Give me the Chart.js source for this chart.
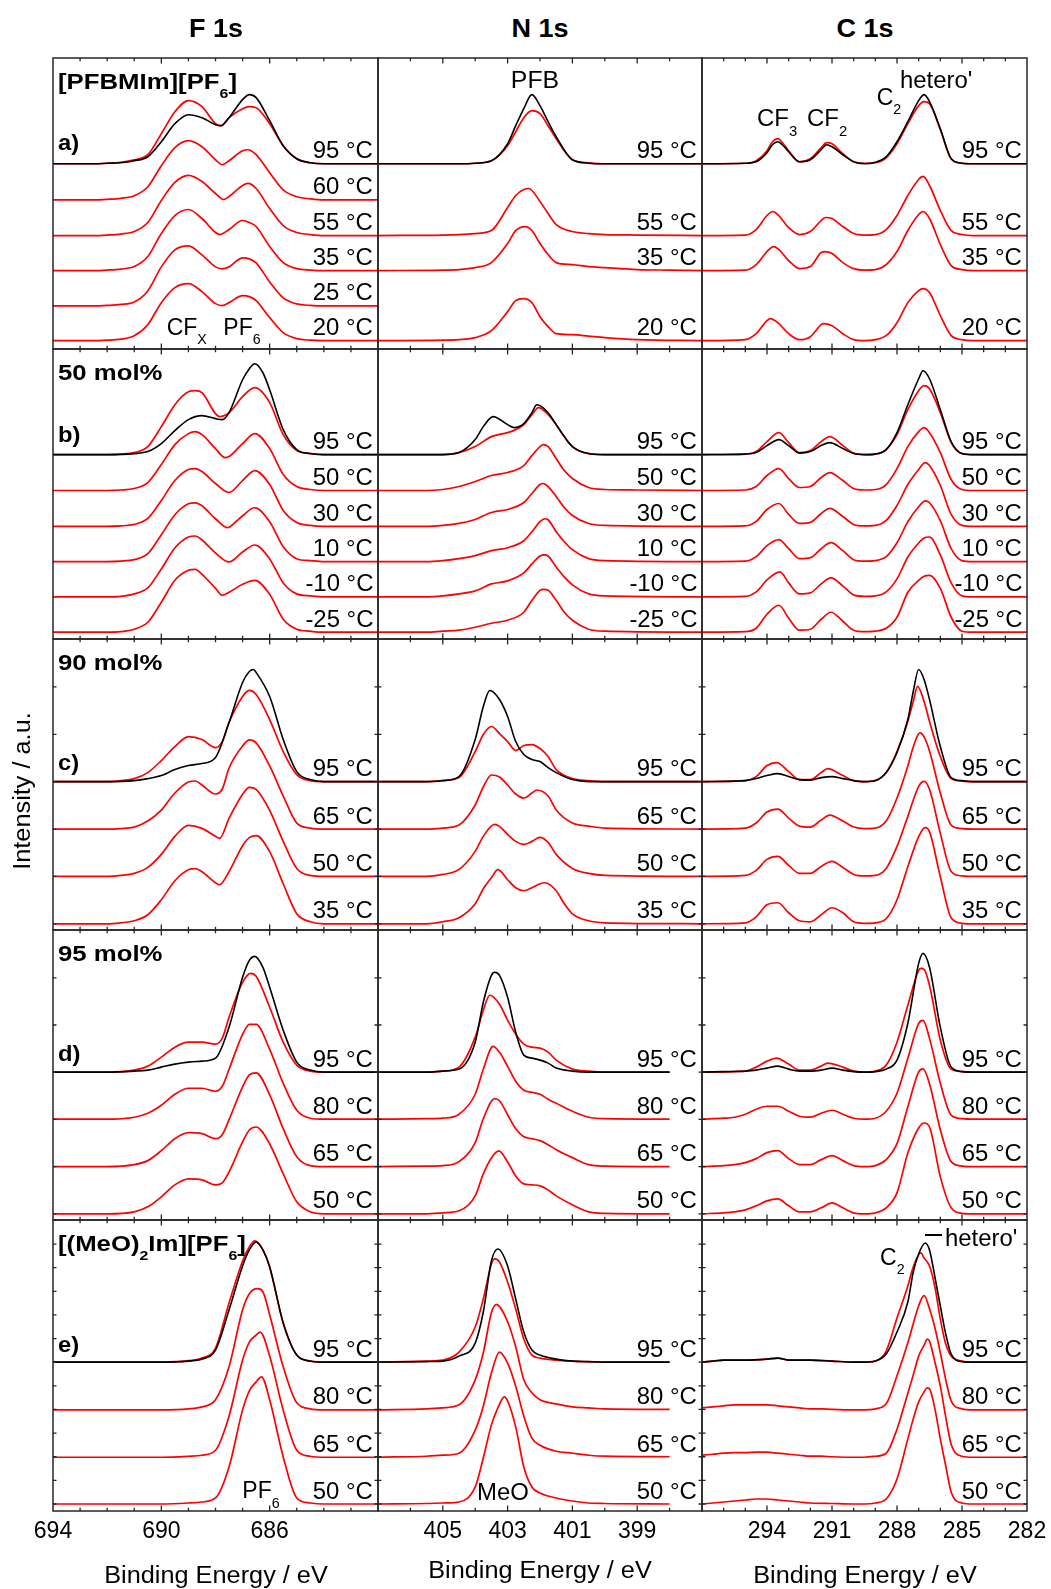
<!DOCTYPE html>
<html lang="en">
<head>
<meta charset="utf-8">
<title>F 1s, N 1s and C 1s XP spectra vs. temperature</title>
<script src="https://cdn.jsdelivr.net/npm/chart.js@4.4.1/dist/chart.umd.min.js"></script>
<style>
  html, body { margin: 0; padding: 0; background: #fff; }
  #fig { position: relative; width: 1051px; height: 1589px; overflow: hidden;
         font-family: "Liberation Sans", Arial, Helvetica, sans-serif; color: #000; }
  #fig canvas { position: absolute; }
  .txt { position: absolute; white-space: nowrap; line-height: 1; }
  .sub { font-size: 0.62em; position: relative; top: 0.7em; }
</style>
</head>
<body>
<div id="fig"></div>
<script>
// ---------------- tick labels (binding energy / eV) ----------------
const F1s_ticks = [694, 690, 686];
const N1s_ticks = [405, 403, 401, 399];
const C1s_ticks = [294, 291, 288, 285, 282];

// ---------------- sample rows ----------------
const rowNames = ['[PFBMIm][PF<span class="sub">6</span>]', '50 mol%', '90 mol%', '95 mol%',
                  '[(MeO)<span class="sub">2</span>Im][PF<span class="sub">6</span>]'];
const rowTags = ['a)', 'b)', 'c)', 'd)', 'e)'];

// temperatures (°C) of the stacked traces, top to bottom, and their vertical offsets (a.u.)
const temps_a = [95, 60, 55, 35, 25, 20];
const offsets_a = [176.7, 140.7, 105, 70, 34.7, 0];
const temps_b = [95, 50, 30, 10, -10, -25];
const offsets_b = [178, 142, 106, 70.7, 35.4, 0];
const temps_c = [95, 65, 50, 35];
const offsets_c = [142, 94.6, 47.3, 0];
const temps_d = [95, 80, 65, 50];
const offsets_d = [142, 94.8, 47.3, 0];
const temps_e = [95, 80, 65, 50];
const offsets_e = [141.7, 94, 46.7, 0];

// ---------------- spectra: [binding energy / eV, intensity above baseline / a.u.] ----------------
// *_ref : black 95 °C trace; the other arrays follow the temperature lists (null = not measured)

// a) [PFBMIm][PF6]
const F1s_a_ref = [[694,0],[692.5,0],[692,0.5],[691.5,1],[691,3],[690.5,7],[690,22],[689.5,40],[689,49],[688.5,46],[688,39],[687.8,38],[687.5,46],[687,64],[686.75,69],[686.5,66],[686,43],[685.5,18],[685,5],[684.5,1],[684,0],[682,0]];
const F1s_a = [
  [[694,0],[692.5,0],[692,0.5],[691.5,1.5],[691,4],[690.5,9],[690,30],[689.5,52],[689,63],[688.5,57],[688,40],[687.8,38],[687.5,46],[687,55],[686.75,57],[686.5,56],[686,40],[685.5,18],[685,5],[684.5,1],[684,0],[682,0]],
  [[694,0],[692.5,0],[692,0.5],[691.5,1.5],[691,4],[690.5,13],[690,34],[689.5,52],[689,59],[688.5,53],[688,40],[687.75,35],[687.5,39],[687,49],[686.8,50],[686.5,45],[686,27],[685.5,10],[685,3],[684.5,1],[684,0],[682,0]],
  [[694,0],[692.5,0],[692,0.5],[691.5,1.5],[691,4],[690.5,13],[690,35],[689.5,53],[689,60],[688.5,54],[688,42],[687.7,36],[687.5,39],[687,50],[686.8,52],[686.5,47],[686,27],[685.5,10],[685,3],[684.5,1],[684,0],[682,0]],
  [[694,0],[692.5,0],[692,0.5],[691.5,1.5],[691,4],[690.5,14],[690,37],[689.5,55],[689,61],[688.5,52],[688,38],[687.85,36],[687.5,41],[687,50],[686.75,48],[686.5,44],[686,24],[685.5,8],[685,2],[684.5,0.5],[684,0],[682,0]],
  [[694,0],[692.5,0],[692,0.5],[691.5,1.5],[691,4],[690.5,15],[690,39],[689.5,56],[689,60],[688.5,51],[688,39],[687.75,37],[687.5,39],[687,48],[686.75,47],[686.5,43],[686,24],[685.5,8],[685,2],[684.5,0.5],[684,0],[682,0]],
  [[694,0],[692.5,0],[692,0.5],[691.5,1.5],[691,5],[690.5,16],[690,38],[689.5,53],[689,57],[688.5,49],[688,37],[687.75,35],[687.5,38],[687,45],[686.75,44],[686.5,40],[686,23],[685.5,8],[685,2],[684.5,0.5],[684,0],[682,0]]
];
const N1s_a_ref = [[407,0],[404.5,0],[404,0.5],[403.5,3],[403,20],[402.75,38],[402.5,55],[402.25,69],[402,58],[401.75,42],[401.5,27],[401,4],[400.5,0.5],[400,0],[397,0]];
const N1s_a = [
  [[407,0],[404.5,0],[404,0.5],[403.5,3],[403,18],[402.75,32],[402.5,46],[402.25,53],[402,50],[401.75,38],[401.5,25],[401,4],[400.5,1],[400,0],[397,0]],
  null,
  [[407,0],[405,0.5],[404.5,1],[404,2],[403.5,5],[403,28],[402.75,40],[402.5,46],[402.35,47],[402,34],[401.75,22],[401.5,11],[401,4],[400.5,2],[400,1],[399,0.5],[397,0]],
  [[407,0],[405,0.5],[404.5,1],[404,3],[403.5,8],[403,27],[402.75,40],[402.45,44],[402.25,40],[402,27],[401.75,16],[401.5,8],[401,6],[400.5,4],[400,3],[399.5,2],[399,1],[398,0.5],[397,0]],
  null,
  [[407,0],[405,0.5],[404.5,1],[404,3],[403.5,10],[403,29],[402.75,40],[402.5,42],[402.25,38],[402,24],[401.75,14],[401.5,7],[401,6],[400.5,4.5],[400,3],[399,1],[397,0]]
];
const C1s_a_ref = [[297,0],[295,0.5],[294.5,2],[294,11],[293.75,19],[293.5,22],[293.25,18],[293,12],[292.5,2],[292,4],[291.5,14],[291.25,19],[291,17],[290.5,9],[290,2],[289.5,0],[289,1.5],[288.5,7],[288,22],[287.5,42],[287,63],[286.75,69],[286.5,62],[286,35],[285.5,5],[285,0.5],[284.5,0],[282,0]];
const C1s_a = [
  [[297,0],[295,0.5],[294.5,3],[294,13],[293.75,22],[293.5,25],[293.25,20],[293,13],[292.5,2],[292,5],[291.5,16],[291.25,21],[291,20],[290.5,10],[290,2],[289.5,0.5],[289,1],[288.5,6],[288,20],[287.5,40],[287,58],[286.75,62],[286.5,60],[286,34],[285.5,5],[285,0.5],[284.5,0],[282,0]],
  null,
  [[297,0],[295,0.5],[294.5,6],[294,20],[293.75,24],[293.5,21],[293,8],[292.5,1],[292,4],[291.5,15],[291.3,18],[291,17],[290.5,9],[290,2],[289.5,0.5],[289,1],[288.5,6],[288,20],[287.5,40],[287,56],[286.8,59],[286.5,50],[286,25],[285.5,5],[285,1],[284.5,0],[282,0]],
  [[297,0],[295,0.5],[294.5,6],[294,19],[293.7,24],[293.5,22],[293,10],[292.5,2],[292,4],[291.5,18],[291.3,19],[291,17],[290.5,8],[290,2],[289.5,0.5],[289,1],[288.5,6],[288,19],[287.5,40],[287,56],[286.8,59],[286.5,52],[286,26],[285.5,5],[285,1],[284.5,0],[282,0]],
  null,
  [[297,0],[295,1],[294.5,7],[294,20],[293.85,22],[293.5,18],[293,7],[292.5,1],[292,4],[291.5,16],[291.4,17],[291,15],[290.5,7],[290,1],[289.5,0],[289,1],[288.5,5],[288,18],[287.5,38],[287,50],[286.8,52],[286.5,48],[286,25],[285.5,5],[285,1],[284.5,0],[282,0]]
];

// b) 50 mol%
const F1s_b_ref = [[694,0],[692,0],[691,1],[690.5,3],[690,11],[689.5,24],[689,35],[688.5,39],[688,36],[687.75,35],[687.5,42],[687,75],[686.75,86],[686.55,91],[686.25,82],[686,65],[685.5,25],[685,5],[684.5,1],[684,0],[682,0]];
const F1s_b = [
  [[694,0],[692,0],[691.5,0.5],[691,2],[690.5,8],[690,28],[689.5,50],[689,63],[688.75,64],[688.5,62],[688,41],[687.85,38],[687.5,42],[687,58],[686.55,67],[686,52],[685.5,20],[685,4],[684.5,1],[684,0],[682,0]],
  [[694,0],[692,0],[691.5,0.5],[691,2],[690.5,8],[690,26],[689.5,46],[689,57],[688.75,59],[688.5,56],[688,42],[687.65,33],[687.5,34],[687,47],[686.55,57],[686,42],[685.5,16],[685,4],[684.5,1],[684,0],[682,0]],
  [[694,0],[692,0],[691.5,0.5],[691,2],[690.5,8],[690,26],[689.5,46],[689,57],[688.75,58],[688.5,55],[688,43],[687.5,34],[687,46],[686.55,56],[686,42],[685.5,16],[685,4],[684.5,1],[684,0],[682,0]],
  [[694,0],[692,0],[691.5,0.5],[691,2],[690.5,8],[690,27],[689.5,47],[689,58],[688.75,59],[688.5,56],[688,43],[687.55,34],[687.25,40],[687,46],[686.55,54],[686,40],[685.5,15],[685,3],[684.5,1],[684,0],[682,0]],
  [[694,0],[692,0],[691.5,0.5],[691,3],[690.5,9],[690,28],[689.5,49],[689,60],[688.75,61],[688.5,57],[688,44],[687.5,35],[687,45],[686.55,52],[686,38],[685.5,14],[685,3],[684.5,1],[684,0],[682,0]],
  [[694,0],[692,0],[691.5,0.5],[691,3],[690.5,10],[690,30],[689.5,52],[689,62],[688.75,63],[688.5,58],[688,44],[687.75,37],[687.5,40],[687,48],[686.55,52],[686,38],[685.5,13],[685,3],[684.5,1],[684,0],[682,0]]
];
const N1s_b_ref = [[407,0],[405,0],[404.5,2],[404.25,7],[404,15],[403.75,28],[403.45,38],[403,30],[402.8,27],[402.5,31],[402.25,42],[402.1,50],[402,49],[401.75,42],[401.5,30],[401.25,18],[401,8],[400.5,1],[400,0],[397,0]];
const N1s_b = [
  [[407,0],[405,0],[404.5,2],[404,8],[403.5,18],[403,22],[402.75,25],[402.5,30],[402.25,40],[402.05,47],[401.75,40],[401.5,30],[401.25,18],[401,8],[400.5,1],[400,0],[397,0]],
  [[407,0],[405.5,0],[405,1],[404.5,4],[404,9],[403.5,15],[403,18],[402.5,25],[402.25,35],[402,44],[401.9,46],[401.75,44],[401.5,32],[401.25,20],[401,12],[400.5,3],[400,1],[399,0.5],[397,0]],
  [[407,0],[405.5,0],[405,1],[404.5,3],[404,7],[403.5,14],[403,17],[402.5,24],[402.25,33],[402,42],[401.9,43],[401.75,40],[401.5,30],[401.25,19],[401,11],[400.5,3],[400,1],[397,0]],
  [[407,0],[405.5,0],[405,1],[404.5,3],[404,6],[403.5,11],[403,14],[402.5,21],[402.25,30],[402,40],[401.85,43],[401.75,42],[401.5,30],[401.25,20],[401,12],[400.5,3],[400,1],[397,0]],
  [[407,0],[405.5,0],[405,1],[404.5,3],[404,6],[403.5,13],[403,16],[402.5,24],[402.25,33],[402,41],[401.85,42],[401.75,41],[401.5,30],[401.25,20],[401,12],[400.5,3],[400,1],[397,0]],
  [[407,0],[405.5,0],[405,1],[404.5,2],[404,5],[403.5,9],[403,12],[402.5,20],[402.25,32],[402,42],[401.9,43],[401.75,42],[401.5,32],[401.25,20],[401,12],[400.5,3],[400,1],[397,0]]
];
const C1s_b_ref = [[297,0],[295,0.5],[294.5,2],[294,9],[293.45,15],[293,9],[292.5,1.5],[292,3],[291.5,9],[291.1,12],[290.5,6],[290,1],[289.5,0],[289,0.5],[288.5,5],[288,22],[287.5,50],[287,76],[286.8,84],[286.5,76],[286,45],[285.5,13],[285,1],[284.5,0],[282,0]];
const C1s_b = [
  [[297,0],[295,0.5],[294.5,3],[294,13],[293.45,22],[293,12],[292.5,2],[292,4],[291.5,13],[291.1,18],[290.5,9],[290,1.5],[289.5,0],[289,0.5],[288.5,5],[288,20],[287.5,45],[287,64],[286.75,69],[286.5,66],[286,42],[285.5,12],[285,1],[284.5,0],[282,0]],
  [[297,0],[295,0.5],[294.5,4],[294,15],[293.45,22],[293,12],[292.5,3],[292,4],[291.5,13],[291.1,18],[290.5,10],[290,2],[289.5,0.5],[289,1],[288.5,6],[288,22],[287.5,44],[287,59],[286.75,63],[286.5,58],[286,38],[285.5,11],[285,1],[284.5,0],[282,0]],
  [[297,0],[295,0.5],[294.5,5],[294,17],[293.45,23],[293,12],[292.5,3],[292,4],[291.5,13],[291.1,18],[290.5,10],[290,2],[289.5,0.5],[289,1],[288.5,6],[288,21],[287.5,42],[287,57],[286.7,64],[286.5,61],[286,41],[285.5,12],[285,1],[284.5,0],[282,0]],
  [[297,0],[295,0.5],[294.5,5],[294,16],[293.45,22],[293,13],[292.5,3],[292,4],[291.5,13],[291.05,19],[290.5,11],[290,2],[289.5,0.5],[289,1],[288.5,5],[288,19],[287.5,40],[287,55],[286.7,61],[286.5,59],[286,41],[285.5,13],[285,1],[284.5,0],[282,0]],
  [[297,0],[295,0.5],[294.5,5],[294,17],[293.4,25],[293,14],[292.5,3],[292,4],[291.5,13],[291.05,19],[290.5,11],[290,2],[289.5,0.5],[289,1],[288.5,5],[288,18],[287.5,40],[287,54],[286.75,59],[286.5,60],[286,42],[285.5,14],[285,1],[284.5,0],[282,0]],
  [[297,0],[295,0.5],[294.5,4],[294,18],[293.45,27],[293,14],[292.5,2],[292,3],[291.5,13],[291.05,20],[290.5,11],[290,2],[289.5,0.5],[289,1],[288.5,4],[288,15],[287.5,40],[287,52],[286.75,56],[286.5,57],[286,44],[285.5,15],[285,1],[284.5,0],[282,0]]
];

// c) 90 mol%
const F1s_c_ref = [[694,0],[692,0],[691,1],[690.5,3],[690,6],[689.5,12],[689,16],[688.5,18],[688,24],[687.5,59],[687,99],[686.75,110],[686.6,112],[686.5,109],[686,85],[685.5,42],[685,10],[684.5,2],[684,0],[682,0]];
const F1s_c = [
  [[694,0],[692,0],[691.5,1],[691,3],[690.5,9],[690,21],[689.5,35],[689,45],[688.5,42],[688,34],[687.75,40],[687.5,59],[687,85],[686.75,91],[686.5,87],[686,62],[685.5,30],[685,7],[684.5,1],[684,0],[682,0]],
  [[694,0],[692,0],[691.5,0.5],[691,2],[690.5,8],[690,19],[689.5,36],[689,47],[688.75,48],[688.5,44],[688,35],[687.75,40],[687.5,61],[687,83],[686.75,89],[686.5,86],[686,63],[685.5,33],[685,6],[684.5,1],[684,0],[682,0]],
  [[694,0],[692,0],[691.5,1],[691,3],[690.5,9],[690,22],[689.5,40],[689,51],[688.5,48],[688,40],[687.85,38],[687.5,58],[687,82],[686.75,89],[686.5,87],[686,66],[685.5,35],[685,8],[684.5,1],[684,0],[682,0]],
  [[694,0],[692,0],[691.5,1],[691,3],[690.5,9],[690,24],[689.5,43],[689,54],[688.75,55],[688.5,52],[688,41],[687.85,39],[687.5,52],[687,78],[686.75,86],[686.5,88],[686,72],[685.5,40],[685,10],[684.5,2],[684,0],[682,0]]
];
const N1s_c_ref = [[407,0],[405.5,0],[405,1],[404.5,5],[404,42],[403.75,75],[403.55,91],[403.25,82],[403,65],[402.75,40],[402.5,27],[402.25,22],[402,20],[401.75,14],[401.5,9],[401,2],[400.5,0],[397,0]];
const N1s_c = [
  [[407,0],[405.5,0],[405,1],[404.5,4],[404,30],[403.75,47],[403.5,55],[403.25,48],[403,40],[402.75,31],[402.5,36],[402.25,37],[402,33],[401.75,25],[401.5,12],[401,3],[400.5,1],[400,0],[397,0]],
  [[407,0],[405.5,0],[405,1],[404.5,4],[404,24],[403.75,42],[403.5,54],[403.25,52],[403,44],[402.75,35],[402.5,31],[402.25,36],[402.1,39],[401.75,33],[401.5,19],[401,6],[400.5,3],[400,1],[397,0]],
  [[407,0],[405.5,0],[405,2],[404.5,7],[404,25],[403.75,40],[403.4,52],[403.25,50],[403,42],[402.75,35],[402.5,32],[402.25,35],[402,39],[401.75,34],[401.5,22],[401,8],[400.5,3],[400,1],[397,0]],
  [[407,0],[405.5,0],[405,2],[404.5,6],[404,20],[403.75,35],[403.5,46],[403.3,54],[403,44],[402.75,36],[402.5,33],[402.25,36],[402,40],[401.85,41],[401.5,33],[401.25,20],[401,10],[400.5,3],[400,1],[397,0]]
];
const C1s_c_ref = [[297,0],[295.5,0.5],[295,1],[294.5,3],[294,6],[293.5,8],[293,5],[292.5,2],[292,1.5],[291.5,4],[291,5],[290.5,3],[290,1],[289.5,0],[289,1],[288.5,9],[288,29],[287.5,62],[287.25,90],[287,112],[286.75,102],[286.5,82],[286,35],[285.5,4],[285,1],[284.5,0],[282,0]];
const C1s_c = [
  [[297,0],[295,1],[294.5,5],[294,16],[293.55,19],[293,10],[292.5,2],[292,2],[291.5,9],[291.2,13],[290.5,6],[290,1],[289.5,0],[289,1],[288.5,9],[288,30],[287.5,60],[287.25,80],[287.05,95],[286.75,80],[286.5,60],[286,25],[285.5,3],[285,0.5],[284.5,0],[282,0]],
  [[297,0],[295,1],[294.5,6],[294,17],[293.5,20],[293,11],[292.5,3],[292,2],[291.5,9],[291.1,14],[290.5,8],[290,2],[289.5,0.5],[289,1],[288.5,8],[288,31],[287.5,63],[287.25,82],[286.95,96],[286.75,92],[286.5,78],[286,36],[285.5,4],[285,0.5],[284.5,0],[282,0]],
  [[297,0],[295,1],[294.5,6],[294,17],[293.5,20],[293,11],[292.5,3],[292,3],[291.5,10],[291,15],[290.5,9],[290,2],[289.5,0.5],[289,1],[288.5,8],[288,30],[287.5,60],[287,90],[286.75,95],[286.5,87],[286,43],[285.5,5],[285,0.5],[284.5,0],[282,0]],
  [[297,0],[295,1],[294.5,7],[294,19],[293.5,21],[293,11],[292.5,3],[292,2],[291.5,9],[291,16],[290.5,11],[290,2],[289.5,0.5],[289,1],[288.5,5],[288,24],[287.5,57],[287,87],[286.7,96],[286.5,92],[286,47],[285.5,6],[285,0.5],[284.5,0],[282,0]]
];

// d) 95 mol%
const F1s_d_ref = [[694,0],[692,0],[691,1],[690.5,2],[690,5],[689.5,8],[689,10],[688.5,11],[688,14],[687.5,45],[687,95],[686.75,112],[686.55,116],[686.25,105],[686,85],[685.5,42],[685,10],[684.5,2],[684,0],[682,0]];
const F1s_d = [
  [[694,0],[692,0],[691,2],[690.5,6],[690,15],[689.5,25],[689,30],[688.5,30],[688,28],[687.75,34],[687.5,55],[687,90],[686.7,99],[686.5,96],[686,65],[685.5,30],[685,7],[684.5,1],[684,0],[682,0]],
  [[694,0],[692,0],[691,2],[690.5,6],[690,14],[689.5,25],[689,31],[688.5,31],[688,28],[687.75,33],[687.5,50],[687,85],[686.75,95],[686.5,95],[686,70],[685.5,36],[685,9],[684.5,1],[684,0],[682,0]],
  [[694,0],[692,0],[691,2],[690.5,6],[690,16],[689.5,28],[689,34],[688.5,33],[688,28],[687.75,32],[687.5,47],[687,80],[686.75,92],[686.5,94],[686,72],[685.5,38],[685,10],[684.5,1],[684,0],[682,0]],
  [[694,0],[692,0],[691,2],[690.5,7],[690,17],[689.5,29],[689,35],[688.5,34],[688,29],[687.75,31],[687.5,42],[687,72],[686.75,84],[686.5,87],[686,70],[685.5,40],[685,12],[684.5,2],[684,0],[682,0]]
];
const N1s_d_ref = [[407,0],[405.5,0],[405,1],[404.5,3],[404,30],[403.75,70],[403.5,97],[403.4,100],[403.25,97],[403,75],[402.75,40],[402.5,17],[402.25,14],[402,12],[401.75,9],[401.5,4],[401,1],[400.5,0],[398,0]];
const N1s_d = [
  [[407,0],[405.5,0],[405,1],[404.5,5],[404,35],[403.75,62],[403.55,77],[403.25,68],[403,52],[402.75,38],[402.5,28],[402.25,25],[402,24],[401.75,20],[401.5,12],[401,3],[400.5,1],[400,0],[398,0]],
  [[407,0],[405.5,0.5],[405,1],[404.5,5],[404,25],[403.75,50],[403.45,73],[403.25,67],[403,53],[402.75,38],[402.5,29],[402.25,27],[402,25],[401.75,20],[401.5,16],[401,8],[400.5,2],[400,0.5],[398,0]],
  [[407,0],[405.5,0.5],[405,1],[404.5,5],[404,24],[403.75,48],[403.4,68],[403.25,66],[403,52],[402.75,38],[402.5,30],[402.25,28],[402,26],[401.75,22],[401.5,17],[401,9],[400.5,2],[400,0.5],[398,0]],
  [[407,0],[405.5,0],[405,1],[404.5,3],[404,18],[403.75,40],[403.5,56],[403.27,63],[403,52],[402.75,38],[402.5,30],[402.25,29],[402,28],[401.75,24],[401.5,18],[401,9],[400.5,2],[400,0.5],[398,0]]
];
const C1s_d_ref = [[297,0],[296,0.5],[295,1],[294.5,2],[294,4],[293.5,6],[293,3],[292.5,1],[292,1],[291.5,2],[291,4],[290.5,2],[290,0.5],[289.5,0],[289,0.5],[288.5,3],[288,12],[287.5,49],[287,109],[286.8,119],[286.5,105],[286,45],[285.5,5],[285,0.5],[284.5,0],[282,0]];
const C1s_d = [
  [[297,0],[295,1],[294.5,5],[294,11],[293.55,14],[293,8],[292.5,2],[292,2],[291.5,6],[291.2,9],[290.5,5],[290,1],[289.5,0],[289,1],[288.5,7],[288,30],[287.5,67],[287,102],[286.9,104],[286.75,103],[286.5,87],[286,32],[285.5,3],[285,0.5],[284.5,0],[282,0]],
  [[297,0],[296,1],[295.5,2],[295,5],[294.5,10],[294,13],[293.5,13],[293,8],[292.5,3],[292,2],[291.5,6],[291,9],[290.5,5],[290,1],[289.5,0],[289,1],[288.5,8],[288,26],[287.5,61],[287,96],[286.8,99],[286.5,81],[286,36],[285.5,4],[285,0.5],[284.5,0],[282,0]],
  [[297,0],[296,1],[295.5,2],[295,4],[294.5,8],[294,14],[293.5,16],[293,8],[292.5,2],[292,2],[291.5,7],[291,11],[290.5,6],[290,1],[289.5,0],[289,1],[288.5,7],[288,23],[287.5,60],[287,95],[286.8,98],[286.5,83],[286,37],[285.5,5],[285,0.5],[284.5,0],[282,0]],
  [[297,0],[296,1],[295.5,2],[295,4],[294.5,8],[294,13],[293.5,15],[293,8],[292.5,2],[292,2],[291.5,6],[291,11],[290.5,6],[290,1],[289.5,0],[289,1],[288.5,6],[288,21],[287.5,61],[287,86],[286.75,91],[286.5,87],[286,37],[285.5,6],[285,0.5],[284.5,0],[282,0]]
];

// e) [(MeO)2Im][PF6]
const F1s_e_ref = [[694,0],[690,0],[689,1],[688.5,3],[688,12],[687.5,52],[687,96],[686.75,112],[686.5,120],[686.25,112],[686,95],[685.5,39],[685,7],[684.5,1],[684,0],[682,0]];
const F1s_e = [
  [[694,0],[690,0],[689.5,0.5],[689,1.5],[688.5,4],[688,14],[687.5,59],[687,101],[686.75,115],[686.55,121],[686.25,112],[686,95],[685.5,39],[685,7],[684.5,1],[684,0],[682,0]],
  [[694,0],[690,0],[689,1],[688.5,3],[688,10],[687.5,43],[687,100],[686.75,116],[686.45,121],[686.25,118],[686,95],[685.5,43],[685,7],[684.5,1],[684,0],[682,0]],
  [[694,0],[690,0],[689,1],[688.5,2],[688,7],[687.5,41],[687,97],[686.75,115],[686.5,122],[686.35,125],[686,101],[685.5,47],[685,7],[684.5,1],[684,0],[682,0]],
  [[694,0],[690,0],[689,1],[688.5,2],[688,6],[687.5,37],[687,94],[686.75,113],[686.5,122],[686.3,127],[686,104],[685.5,47],[685,6],[684.5,1],[684,0],[682,0]]
];
const N1s_e_ref = [[407,0],[405.5,0.5],[405,1],[404.5,6],[404,19],[403.75,50],[403.5,101],[403.3,113],[403,96],[402.75,63],[402.5,30],[402.25,12],[402,7],[401.5,3],[401,1],[400.5,0.5],[400,0],[398,0]];
const N1s_e = [
  [[407,0],[405.5,1],[405,2],[404.5,10],[404,35],[403.75,63],[403.5,98],[403.4,103],[403.25,100],[403,80],[402.75,53],[402.5,23],[402.25,7],[402,4],[401.5,2],[401,1],[400,0],[398,0]],
  [[407,0],[405.5,1],[405,2],[404.5,5],[404,30],[403.75,57],[403.5,97],[403.35,105],[403,88],[402.75,63],[402.5,30],[402.25,17],[402,10],[401.5,6],[401,3],[400.5,2],[400,1],[398,0.5]],
  [[407,0],[405.5,1],[405,2],[404.5,4],[404,27],[403.75,51],[403.5,84],[403.25,105],[403,94],[402.75,71],[402.5,41],[402.25,19],[402,12],[401.5,6],[401,4],[400.5,2],[400,1],[398,0.5]],
  [[407,0],[405.5,0.5],[405,1],[404.5,2],[404,17],[403.75,46],[403.5,79],[403.3,96],[403.1,107],[403,103],[402.75,77],[402.5,37],[402.25,17],[402,11],[401.5,6],[401,3],[400.5,1],[400,0.5],[398,0]]
];
const C1s_e_ref = [[297,0],[296.5,1],[296,2],[295,2],[294,3],[293.5,4],[293,2],[292,2],[291,1],[290,0],[289.5,0],[289,1],[288.5,8],[288,30],[287.5,60],[287.25,90],[287,108],[286.7,119],[286.5,112],[286.25,85],[286,56],[285.75,28],[285.5,8],[285,0.5],[284.5,0],[282,0]];
const C1s_e = [
  [[297,0],[296.5,1],[296,2],[295,2],[294,3],[293.5,4],[293,2],[292,2],[291,1],[290,0],[289.5,0],[289,1],[288.5,11],[288,44],[287.5,76],[287.25,95],[286.9,109],[286.75,104],[286.5,96],[286.25,75],[286,43],[285.75,18],[285.5,6],[285,1],[284.5,0],[282,0]],
  [[297,2],[296.5,3],[296,4],[295.5,5],[295,5],[294.5,5],[294,5],[293.5,4],[293,3],[292.5,2],[292,1],[291.5,1],[291,0.5],[290,0],[289.5,0],[289,1],[288.5,6],[288,34],[287.5,67],[287.25,86],[287,104],[286.75,114],[286.5,101],[286.25,82],[286,57],[285.75,30],[285.5,9],[285,1],[284.5,0],[282,0]],
  [[297,2],[296.5,3],[296,4],[295.5,4.5],[295,4.5],[294.5,5],[294,5],[293.5,4],[293,3],[292.5,2],[292,1],[291.5,1],[291,0.5],[290,0],[289.5,0],[289,1],[288.5,4],[288,28],[287.5,64],[287.25,82],[287,101],[286.75,112],[286.6,118],[286.5,116],[286.25,95],[286,71],[285.75,40],[285.5,13],[285,1],[284.5,0],[282,0]],
  [[297,0],[296.5,1],[296,2],[295.5,3],[295,4],[294.5,5],[294,5],[293.5,4],[293,3],[292.5,2],[292,1],[291,0.5],[290,0],[289.5,0],[289,1],[288.5,5],[288,25],[287.5,65],[287.25,85],[287,102],[286.75,112],[286.6,116],[286.5,115],[286.25,95],[286,65],[285.75,38],[285.5,12],[285,1],[284.5,0],[282,0]]
];

// ---------------- layout ----------------
const FONT = '"Liberation Sans", Arial, Helvetica, sans-serif';
const FIG_W = 1051;
const fig = document.getElementById('fig');

const COLS = [
  { x0: 53,  x1: 378,  min: 682, max: 694, labels: F1s_ticks },
  { x0: 378, x1: 702,  min: 397, max: 407, labels: N1s_ticks },
  { x0: 702, x1: 1027, min: 282, max: 297, labels: C1s_ticks }
];
const ROW_EDGES = [58, 349, 639, 930, 1220, 1511];
const ROW_SPAN = 290.6;     // a.u. spanned by one row

const ROWS = [
  { temps: temps_a, offsets: offsets_a, yMin: -8.3, yStep: 0,
    spectra: [[F1s_a_ref, F1s_a], [N1s_a_ref, N1s_a], [C1s_a_ref, C1s_a]] },
  { temps: temps_b, offsets: offsets_b, yMin: -6.8, yStep: 0,
    spectra: [[F1s_b_ref, F1s_b], [N1s_b_ref, N1s_b], [C1s_b_ref, C1s_b]] },
  { temps: temps_c, offsets: offsets_c, yMin: -6.2, yStep: 47.3,
    spectra: [[F1s_c_ref, F1s_c], [N1s_c_ref, N1s_c], [C1s_c_ref, C1s_c]] },
  { temps: temps_d, offsets: offsets_d, yMin: -6.2, yStep: 47.3,
    spectra: [[F1s_d_ref, F1s_d], [N1s_d_ref, N1s_d], [C1s_d_ref, C1s_d]] },
  { temps: temps_e, offsets: offsets_e, yMin: -7, yStep: 23.6,
    spectra: [[F1s_e_ref, F1s_e], [N1s_e_ref, N1s_e], [C1s_e_ref, C1s_e]] }
];

// text helper: positions by baseline, optional horizontal stretch
function addText(html, x, baseline, o = {}) {
  const size = o.size || 23, sx = o.sx || 1, align = o.align || 'left';
  const el = document.createElement('div');
  el.className = 'txt';
  el.innerHTML = html;
  el.style.fontSize = size + 'px';
  if (o.bold) el.style.fontWeight = 'bold';
  el.style.top = (baseline - 0.8467 * size).toFixed(2) + 'px';
  if (align === 'left') {
    el.style.left = x + 'px';
    el.style.transformOrigin = 'left center';
    el.style.transform = `scaleX(${sx})`;
  } else if (align === 'right') {
    el.style.right = (FIG_W - x) + 'px';
    el.style.transformOrigin = 'right center';
    el.style.transform = `scaleX(${sx})`;
  } else {
    el.style.left = x + 'px';
    el.style.transform = `translateX(-50%) scaleX(${sx})`;
  }
  fig.appendChild(el);
  return el;
}

// panel frame with inward tick marks, drawn from the chart's own scales
const panelFrame = {
  id: 'panelFrame',
  afterDatasetsDraw(chart, _args, opts) {
    const { ctx, chartArea: a } = chart;
    const xs = chart.scales.x, ys = chart.scales.y;
    ctx.save();
    ctx.strokeStyle = '#262626';
    ctx.lineWidth = 1.3;
    ctx.beginPath();
    xs.ticks.forEach(t => {
      const p = xs.getPixelForValue(t.value);
      if (p <= a.left + 1 || p >= a.right - 1) return;
      const len = opts.major.includes(t.value) ? 5.5 : 3.2;
      ctx.moveTo(p, a.top); ctx.lineTo(p, a.top + len);
      ctx.moveTo(p, a.bottom); ctx.lineTo(p, a.bottom - len);
    });
    if (opts.yTicks) {
      ys.ticks.forEach(t => {
        const p = ys.getPixelForValue(t.value);
        if (p <= a.top + 2 || p >= a.bottom - 2) return;
        ctx.moveTo(a.left, p); ctx.lineTo(a.left + 3.5, p);
        ctx.moveTo(a.right, p); ctx.lineTo(a.right - 3.5, p);
      });
    }
    ctx.stroke();
    ctx.lineWidth = 1.5;
    ctx.strokeRect(a.left, a.top, a.right - a.left, a.bottom - a.top);
    ctx.restore();
  }
};

const toXY = (trace, off) => trace.map(([e, v]) => ({ x: e, y: v + off }));

const PAD = 4, SIDE = 32, AXIS_H = 78;

ROWS.forEach((row, r) => {
  const top = ROW_EDGES[r], h = ROW_EDGES[r + 1] - top;
  const last = r === ROWS.length - 1;
  COLS.forEach((col, c) => {
    const w = col.x1 - col.x0;
    const padL = last ? SIDE : PAD, padR = padL, padT = PAD, padB = last ? 0 : PAD;
    const cw = w + padL + padR, ch = h + padT + padB + (last ? AXIS_H : 0);
    const cv = document.createElement('canvas');
    cv.width = cw; cv.height = ch;
    cv.style.width = cw + 'px'; cv.style.height = ch + 'px';
    cv.style.left = (col.x0 - padL) + 'px'; cv.style.top = (top - padT) + 'px';
    fig.appendChild(cv);

    const [ref, traces] = row.spectra[c];
    const datasets = [{ data: toXY(ref, row.offsets[0]), borderColor: '#000000', borderWidth: 1.6 }];
    traces.forEach((t, i) => {
      if (t) datasets.push({ data: toXY(t, row.offsets[i]), borderColor: '#ff0000', borderWidth: 1.7 });
    });

    const xScale = {
      type: 'linear', min: col.min, max: col.max, reverse: true, display: last,
      grid: { display: false, drawTicks: false },
      border: { display: false },
      ticks: {
        stepSize: 1, autoSkip: false, maxRotation: 0, padding: 7, color: '#000',
        font: { family: FONT, size: 23 },
        callback: v => col.labels.includes(v) ? String(v) : ''
      }
    };
    if (last) xScale.afterFit = s => { s.height = AXIS_H; };

    const yScale = { type: 'linear', min: row.yMin, max: row.yMin + ROW_SPAN, display: false,
                     ticks: row.yStep ? { stepSize: row.yStep, includeBounds: false } : {} };

    const chart = new Chart(cv, {
      type: 'line',
      data: { datasets },
      options: {
        responsive: false, animation: false, events: [],
        layout: { padding: { left: padL, right: padR, top: padT, bottom: padB } },
        elements: { point: { radius: 0 }, line: { cubicInterpolationMode: 'monotone', fill: false } },
        plugins: { legend: { display: false }, tooltip: { enabled: false },
                   panelFrame: { major: col.labels, yTicks: row.yStep > 0 } },
        scales: { x: xScale, y: yScale }
      },
      plugins: [panelFrame]
    });

    // temperature labels sit just above each trace's baseline, at the right edge
    const ys = chart.scales.y;
    traces.forEach((t, i) => {
      if (!t) return;
      const yb = top - padT + ys.getPixelForValue(row.offsets[i]);
      addText(`${row.temps[i]} °C`, col.x1 - 5, yb - 5, { align: 'right', sx: 1.04 });
    });
  });

  addText(rowNames[r], 58, top + 31.5, { size: 22, bold: true, sx: 1.17 });
});

// panel letters
[151, 443, 771, 1062, 1353].forEach((b, i) => addText(rowTags[i], 58, b, { size: 22, bold: true, sx: 1.08 }));

// column headers
addText('F 1s', 215.5, 36.7, { size: 25, bold: true, align: 'center', sx: 1.08 });
addText('N 1s', 540, 36.7, { size: 25, bold: true, align: 'center', sx: 1.08 });
addText('C 1s', 864.5, 36.7, { size: 25, bold: true, align: 'center', sx: 1.08 });

// peak assignments
addText('CF<span class="sub">X</span>', 166.7, 335);
addText('PF<span class="sub">6</span>', 223.3, 335);
addText('PFB', 535, 88.3, { align: 'center', sx: 1.08 });
addText('CF<span class="sub">3</span>', 757.3, 126.7, { sx: 1.04 });
addText('CF<span class="sub">2</span>', 806.7, 126.7, { sx: 1.04 });
addText('C<span class="sub">2</span>', 876.7, 105);
addText("hetero'", 900, 88.3, { sx: 1.04 });
addText('PF<span class="sub">6</span>', 242.3, 1498.3);
addText('MeO', 476.7, 1500, { sx: 1.04 });
addText('C<span class="sub">2</span>', 880, 1265);
addText("hetero'", 945, 1246.7, { sx: 1.04 });
const dash = document.createElement('div');
dash.style.cssText = 'position:absolute;left:925px;top:1234.3px;width:17px;height:1.5px;background:#000;';
fig.appendChild(dash);

// axis titles
addText('Binding Energy / eV', 215.5, 1583, { align: 'center', sx: 1.1 });
addText('Binding Energy / eV', 540, 1578, { align: 'center', sx: 1.1 });
addText('Binding Energy / eV', 864.5, 1583, { align: 'center', sx: 1.1 });

const yt = document.createElement('div');
yt.className = 'txt';
yt.textContent = 'Intensity / a.u.';
yt.style.cssText += 'font-size:23px;left:22px;top:791px;transform:translate(-50%,-50%) rotate(-90deg) scaleX(1.1);';
fig.appendChild(yt);
</script>
</body>
</html>
